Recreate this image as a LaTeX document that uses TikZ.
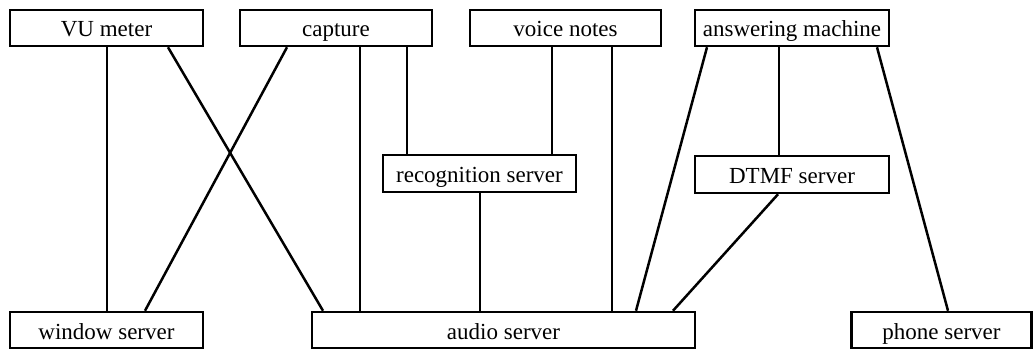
\documentclass[tikz,border=0pt]{standalone}
\usepackage{fontspec}
\setmainfont{Liberation Serif}
\begin{document}
\begin{tikzpicture}[x=1pt,y=-1pt,
  box/.style={draw,line width=2.5pt,fill=white,inner sep=0pt,minimum height=36pt,text height=18pt,text depth=0pt,font=\fontsize{23}{25}\selectfont},
  link/.style={line width=2.5pt}]
\useasboundingbox (0,0) rectangle (1033,350);
% boxes
\node[box,minimum width=193pt] (vu) at (106.5,28) {VU meter};
\node[box,minimum width=192pt] (cap) at (336,28) {capture};
\node[box,minimum width=191pt] (vn) at (565.5,28) {voice notes};
\node[box,minimum width=194pt] (am) at (792,28) {answering machine};
\node[box,minimum width=193pt,minimum height=37pt] (rec) at (479.5,173.5) {recognition server};
\node[box,minimum width=194pt,minimum height=37pt] (dtmf) at (792,174.5) {DTMF server};
\node[box,minimum width=193pt] (ws) at (106.5,330) {window server};
\node[box,minimum width=383pt] (as) at (503.5,330) {audio server};
\node[box,minimum width=180pt] (ps) at (941.5,330) {phone server};
% connectors
\draw[link] (vu.south -| 107,0) -- (ws.north -| 107,0);
\draw[link] (vu.south -| 168,0) -- (as.north -| 323,0);
\draw[link] (cap.south -| 287,0) -- (ws.north -| 145,0);
\draw[link] (cap.south -| 360,0) -- (as.north -| 360,0);
\draw[link] (cap.south -| 407,0) -- (rec.north -| 407,0);
\draw[link] (vn.south -| 552,0) -- (rec.north -| 552,0);
\draw[link] (vn.south -| 612,0) -- (as.north -| 612,0);
\draw[link] (rec.south -| 480,0) -- (as.north -| 480,0);
\draw[link] (am.south -| 707,0) -- (as.north -| 636,0);
\draw[link] (am.south -| 779,0) -- (dtmf.north -| 779,0);
\draw[link] (am.south -| 877,0) -- (ps.north -| 948,0);
\draw[link] (dtmf.south -| 778,0) -- (as.north -| 673,0);
\end{tikzpicture}
\end{document}
